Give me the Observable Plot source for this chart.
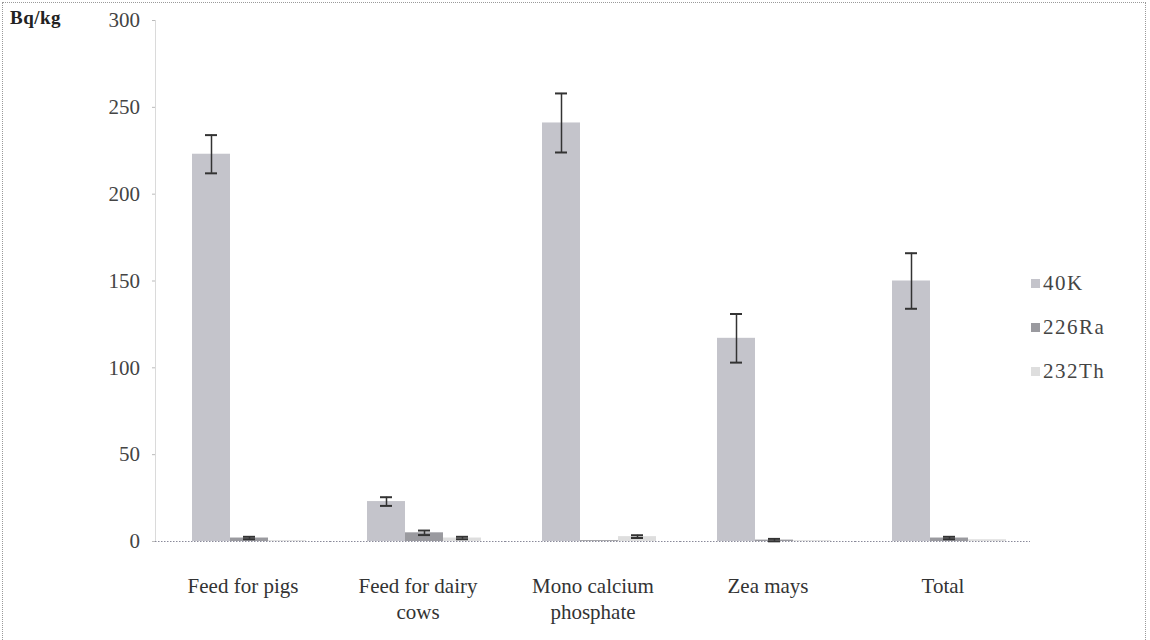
<!DOCTYPE html>
<html>
<head>
<meta charset="utf-8">
<script src="https://cdn.jsdelivr.net/npm/d3@7"></script>
<script src="https://cdn.jsdelivr.net/npm/@observablehq/plot@0.6"></script>
<style>
  html, body { margin: 0; padding: 0; background: #fff; }
  #wrap { position: relative; width: 1150px; height: 640px; font-family: 'Liberation Serif', serif; }
  #frame { position: absolute; left: 2px; top: 2px; width: 1144px; height: 640px; border: 1px dotted #9a9a9a; border-bottom: none; box-sizing: border-box; pointer-events: none; }
  #ylab { position: absolute; left: 10px; top: 7px; font-weight: bold; font-size: 19px; letter-spacing: 0.5px; color: #222; }
  #legend { position: absolute; left: 1031px; top: 261px; font-size: 21px; letter-spacing: 1.5px; color: #444; }
  #legend .row { display: flex; align-items: center; height: 44px; }
  #legend .sw { width: 9px; height: 9px; margin-right: 3px; }
</style>
</head>
<body>
<div id="wrap">
  <div id="chart"></div>
  <div id="ylab">Bq/kg</div>
  <div id="legend"></div>
  <div id="frame"></div>
</div>
<script>
// Categories and tick labels
const categories = ["Feed for pigs", "Feed for dairy cows", "Mono calcium phosphate", "Zea mays", "Total"];
const categoryLabels = ["Feed for pigs", "Feed for dairy\ncows", "Mono calcium\nphosphate", "Zea mays", "Total"];
const isotopes = ["40K", "226Ra", "232Th"];
const isotopeColors = ["#c4c4cb", "#9a9a9f", "#dedede"];

// Series values (Bq/kg) and error (±)
const k40 = [223, 23, 241, 117, 150];
const k40Err = [11, 2.5, 17, 14, 16];
const ra226 = [2, 5, 0.5, 0.8, 2];
const ra226Err = [0.7, 1.3, 0, 0.7, 0.7];
const th232 = [0.5, 2, 2.8, 0.5, 1];
const th232Err = [0, 0.7, 0.8, 0, 0];

const yTicks = [0, 50, 100, 150, 200, 250, 300];

const series = [
  {name: "40K", values: k40, err: k40Err},
  {name: "226Ra", values: ra226, err: ra226Err},
  {name: "232Th", values: th232, err: th232Err}
];
const data = [];
for (const s of series) {
  categories.forEach((c, i) => {
    data.push({category: c, isotope: s.name, value: s.values[i], err: s.err[i]});
  });
}
const errData = data.filter(d => d.err > 0);
const labelOf = new Map(categories.map((c, i) => [c, categoryLabels[i]]));
const serif = "'Liberation Serif', serif";

const chart = Plot.plot({
  width: 1150,
  height: 640,
  marginLeft: 155,
  marginRight: 120,
  marginTop: 20,
  marginBottom: 99,
  style: `font-family: ${serif}; font-size: 21px; color: #333; background: transparent;`,
  fx: {domain: categories, padding: 0, label: null, axis: null},
  x: {domain: isotopes, paddingInner: 0, paddingOuter: 0.744, align: 0.6, axis: null},
  y: {domain: [0, 300], label: null, axis: null},
  color: {domain: isotopes, range: isotopeColors},
  marks: [
    Plot.frame({anchor: "left", stroke: "#dadada", facetAnchor: "left"}),
    Plot.axisY({ticks: yTicks, tickSize: 3, tickPadding: 12.5, stroke: "#bbb", fill: "#444", fontSize: 21, fontFamily: serif, letterSpacing: "1.5px", label: null}),
    Plot.barY(data, {fx: "category", x: "isotope", y: "value", fill: "isotope"}),
    Plot.ruleY([0], {stroke: "#8a8a9a", strokeDasharray: "1.5,1.5"}),
    Plot.ruleX(errData, {fx: "category", x: "isotope", y1: d => d.value - d.err, y2: d => d.value + d.err, stroke: "#333", strokeWidth: 1.5}),
    Plot.tickY(errData, {fx: "category", x: "isotope", y: d => d.value + d.err, stroke: "#333", strokeWidth: 2, insetLeft: 13, insetRight: 13}),
    Plot.tickY(errData, {fx: "category", x: "isotope", y: d => d.value - d.err, stroke: "#333", strokeWidth: 2, insetLeft: 13, insetRight: 13}),
    Plot.axisFx({anchor: "bottom", tickSize: 0, tickPadding: 34, tickFormat: c => labelOf.get(c), fontSize: 21, fontFamily: serif, fill: "#333", lineHeight: 1.2, label: null})
  ]
});
document.getElementById("chart").appendChild(chart);

// Legend
const legend = document.getElementById("legend");
isotopes.forEach((name, i) => {
  const row = document.createElement("div");
  row.className = "row";
  const sw = document.createElement("span");
  sw.className = "sw";
  sw.style.background = isotopeColors[i];
  const t = document.createElement("span");
  t.textContent = name;
  row.appendChild(sw);
  row.appendChild(t);
  legend.appendChild(row);
});
</script>
</body>
</html>
